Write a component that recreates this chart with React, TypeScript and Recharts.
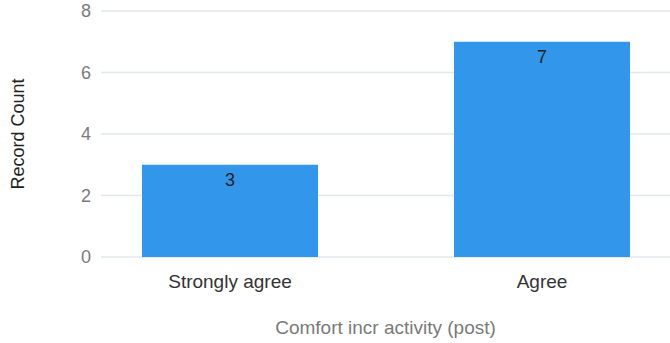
import { BarChart, Bar, XAxis, YAxis, CartesianGrid, LabelList } from 'recharts';

const categories = ['Strongly agree', 'Agree'];
const counts = [3, 7];
const yTicks = [0, 2, 4, 6, 8];

const data = categories.map((name, i) => ({ name, count: counts[i] }));

const FONT = 'Arial, "Liberation Sans", Helvetica, sans-serif';

const App = () => {
  return (
    <div style={{ width: 670, height: 343, fontFamily: FONT }}>
      <style>{`body { margin: 0; }`}</style>
      <BarChart
        width={670}
        height={343}
        data={data}
        margin={{ top: 11, right: 0, bottom: 0, left: 0 }}
      >
        <CartesianGrid vertical={false} stroke="#e1e8ef" strokeWidth={1.5} />
        <XAxis
          dataKey="name"
          height={86}
          padding={{ left: -27, right: -28 }}
          axisLine={false}
          tickLine={false}
          tickSize={0}
          tickMargin={18}
          tick={{ fill: '#333333', fontSize: 19, fontFamily: FONT }}
          label={{
            value: 'Comfort incr activity (post)',
            position: 'insideBottom',
            offset: 9,
            fill: '#7a7a7a',
            fontSize: 19,
            fontFamily: FONT,
          }}
        />
        <YAxis
          width={101}
          domain={[0, 8]}
          ticks={yTicks}
          axisLine={false}
          tickLine={false}
          tickSize={0}
          tickMargin={10}
          tick={{ fill: '#7a7a7a', fontSize: 18, fontFamily: FONT }}
          label={{
            value: 'Record Count',
            angle: -90,
            position: 'insideLeft',
            offset: 18,
            fill: '#222222',
            fontSize: 18,
            fontFamily: FONT,
            style: { textAnchor: 'middle' },
          }}
        />
        <Bar dataKey="count" fill="#3296ea" barSize={176} isAnimationActive={false}>
          <LabelList
            dataKey="count"
            position="insideTop"
            offset={8}
            fill="#222222"
            fontSize={18}
            fontFamily={FONT}
          />
        </Bar>
      </BarChart>
    </div>
  );
};

export default App;
